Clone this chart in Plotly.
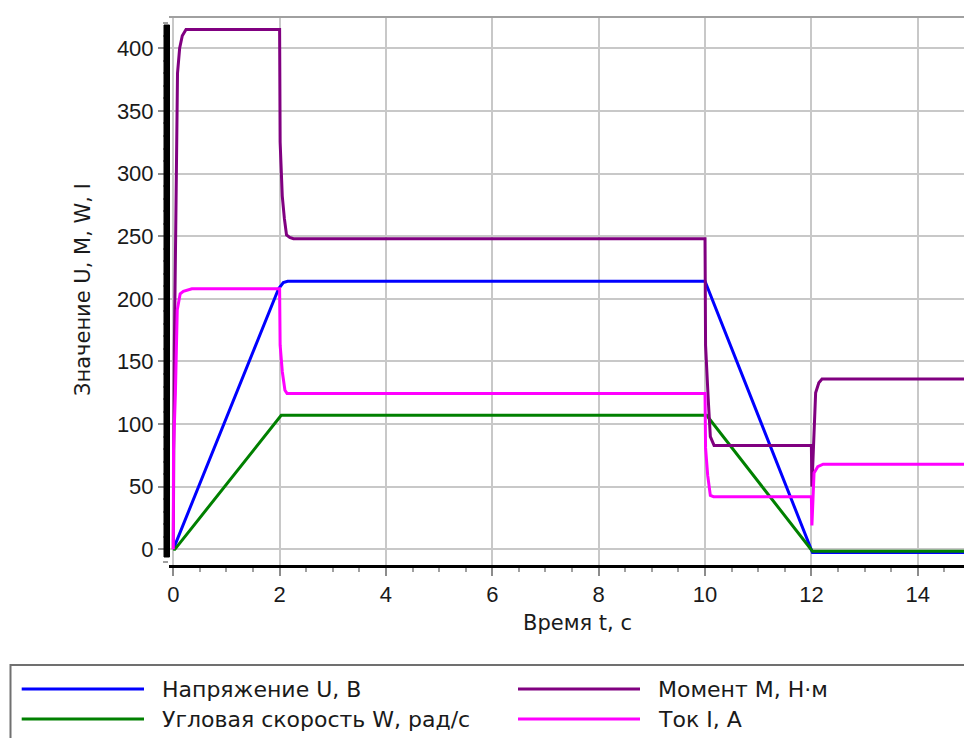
import plotly.graph_objects as go

# ---- data -------------------------------------------------------------
SERIES_NAMES = ["Напряжение U, В", "Угловая скорость W, рад/с",
                "Момент M, Н·м", "Ток I, А"]
SERIES_COLORS = ["#0000FF", "#008000", "#800080", "#FF00FF"]

# voltage U, V
T_U = [0.0, 1.98, 2.07, 2.15, 10.0, 12.02, 15.0]
U = [0.0, 208.0, 213.0, 214.0, 214.0, -2.5, -2.5]

# angular speed W, rad/s
T_W = [0.0, 0.03, 2.03, 10.03, 12.02, 15.0]
W = [0.0, 0.0, 107.0, 107.0, -1.5, -1.5]

# torque M, N·m
T_M = [0.0, 0.005, 0.02, 0.045, 0.08, 0.12, 0.17, 0.24,
       2.0, 2.01, 2.05, 2.09, 2.13, 2.19, 2.26,
       10.0, 10.01, 10.06, 10.1, 10.17,
       12.0, 12.01, 12.05, 12.08, 12.14, 12.2, 15.0]
M = [0.0, 80.0, 160.0, 250.0, 380.0, 400.0, 410.0, 415.0,
     415.0, 325.0, 282.0, 264.0, 251.0, 249.0, 248.0,
     248.0, 163.0, 120.0, 90.0, 83.0,
     83.0, 50.0, 93.0, 125.0, 133.0, 136.0, 136.0]

# current I, A
T_I = [0.0, 0.005, 0.04, 0.075, 0.13, 0.19, 0.35,
       2.0, 2.01, 2.05, 2.1, 2.14,
       10.0, 10.01, 10.05, 10.1, 10.16,
       12.0, 12.01, 12.05, 12.12, 12.22, 15.0]
I = [0.0, 79.0, 124.0, 191.0, 204.0, 206.0, 208.0,
     208.0, 163.0, 142.0, 127.0, 124.5,
     124.5, 81.0, 59.0, 43.0, 42.0,
     42.0, 19.0, 61.0, 66.0, 68.0, 68.0]

X_TICKS = [0, 2, 4, 6, 8, 10, 12, 14]
Y_TICKS = [0, 50, 100, 150, 200, 250, 300, 350, 400]
X_TITLE = "Время t, с"
Y_TITLE = "Значение U, M, W, I"

# ---- layout geometry --------------------------------------------------
W_FIG, H_FIG = 964, 738
L, R, T, B = 169, 0, 17, 173
PW, PH = W_FIG - L - R, H_FIG - T - B


def px(x):
    return (x - L) / PW


def py(y):
    return (H_FIG - B - y) / PH


NUM_FONT = "Liberation Sans, Arial, sans-serif"
TXT_FONT = "DejaVu Sans, Verdana, sans-serif"
TXT = "#1a1a1a"

fig = go.Figure()
for t, v, name, col in zip([T_U, T_W, T_M, T_I], [U, W, M, I],
                           SERIES_NAMES, SERIES_COLORS):
    fig.add_trace(go.Scatter(x=t, y=v, mode="lines", name=name,
                             line=dict(color=col, width=3),
                             showlegend=False))

shapes = [
    # light frame along the top of the plot area
    dict(type="line", xref="paper", yref="paper", x0=0, x1=1, y0=1, y1=1,
         line=dict(color="#a0a0a0", width=2), layer="above"),
    # heavy black value axis, slightly shorter than the plot area
    dict(type="rect", xref="paper", yref="paper", x0=px(164), x1=px(169.5),
         y0=py(557), y1=py(25), line=dict(color="#000000", width=1),
         fillcolor="#000000", layer="above"),
    # legend frame
    dict(type="rect", xref="paper", yref="paper", x0=px(10.5), x1=px(1000),
         y0=py(780), y1=py(665), line=dict(color="#707070", width=2),
         fillcolor="rgba(0,0,0,0)", layer="above"),
]

annotations = [
    dict(text=X_TITLE, xref="paper", yref="paper", x=px(577), y=py(623),
         showarrow=False, xanchor="center", yanchor="middle",
         font=dict(family=TXT_FONT, size=21, color=TXT)),
    dict(text=Y_TITLE, xref="paper", yref="paper", x=px(83), y=py(290),
         showarrow=False, xanchor="center", yanchor="middle", textangle=-90,
         font=dict(family=TXT_FONT, size=21, color=TXT)),
]

# legend entries: column-major, two rows
leg_cols = [(21.7, 144, 160), (518, 640, 656)]
leg_rows = [689, 719]
for k, (name, col) in enumerate(zip(SERIES_NAMES, SERIES_COLORS)):
    c, r = divmod(k, 2)
    x0, x1, xt = leg_cols[c]
    yy = leg_rows[r]
    shapes.append(dict(type="line", xref="paper", yref="paper",
                       x0=px(x0), x1=px(x1), y0=py(yy), y1=py(yy),
                       line=dict(color=col, width=3), layer="above"))
    annotations.append(dict(text=name, xref="paper", yref="paper",
                            x=px(xt), y=py(yy), showarrow=False,
                            xanchor="left", yanchor="middle",
                            font=dict(family=TXT_FONT, size=22, color=TXT)))

fig.update_layout(
    width=W_FIG, height=H_FIG,
    margin=dict(l=L, r=R, t=T, b=B, pad=0),
    paper_bgcolor="white", plot_bgcolor="white",
    shapes=shapes, annotations=annotations,
    font=dict(family=NUM_FONT, size=22, color=TXT),
)

fig.update_xaxes(
    range=[-0.08, 14.87], tickvals=X_TICKS, ticktext=[str(v) for v in X_TICKS],
    showgrid=True, gridcolor="#c8c8c8", gridwidth=1.5, zeroline=False,
    showline=True, linecolor="#000000", linewidth=3,
    ticks="outside", ticklen=8, tickwidth=2, tickcolor="#8c8c8c",
    minor=dict(dtick=0.5, tick0=0, ticks="outside", ticklen=4, tickwidth=2,
               tickcolor="#a0a0a0", showgrid=False),
    tickfont=dict(family=NUM_FONT, size=22, color=TXT),
)
fig.update_yaxes(
    range=[-12.5, 425], tickvals=Y_TICKS, ticktext=[str(v) for v in Y_TICKS],
    showgrid=True, gridcolor="#c8c8c8", gridwidth=1.5, zeroline=False,
    showline=False,
    ticks="outside", ticklen=10, tickwidth=2, tickcolor="#8c8c8c",
    minor=dict(dtick=10, tick0=0, ticks="outside", ticklen=5, tickwidth=2,
               tickcolor="#a0a0a0", showgrid=False),
    tickfont=dict(family=NUM_FONT, size=22, color=TXT),
)

fig.write_html("out.html")
